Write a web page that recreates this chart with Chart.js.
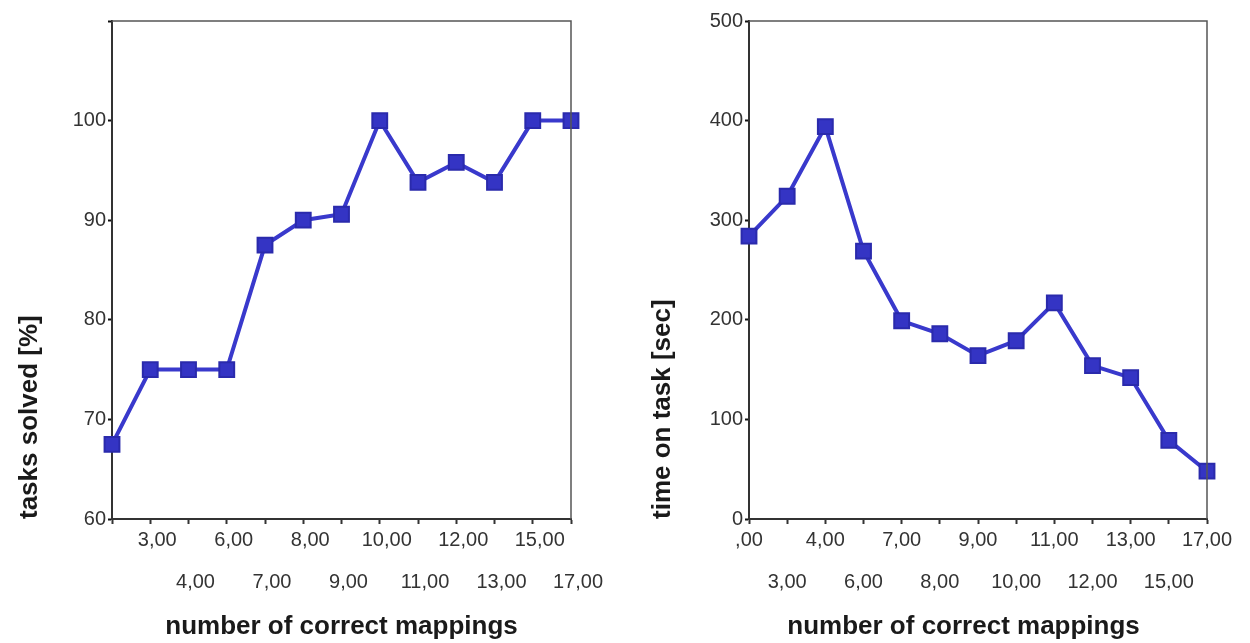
<!DOCTYPE html>
<html>
<head>
<meta charset="utf-8">
<script src="https://cdn.jsdelivr.net/npm/chart.js@4/dist/chart.umd.min.js"></script>
<style>
  html, body { margin: 0; padding: 0; background: #fff; }
  #wrap { position: relative; width: 1250px; height: 643px; }
  .panel { position: absolute; top: 0; width: 625px; height: 643px; }
</style>
</head>
<body>
<div id="wrap">
  <div class="panel" style="left:0"><canvas id="solvedChart" width="625" height="643"></canvas></div>
  <div class="panel" style="left:625px"><canvas id="timeChart" width="625" height="643"></canvas></div>
</div>
<script>
// number of correct mappings (x categories)
const categories = ['2,00', '3,00', '4,00', '6,00', '7,00', '8,00', '9,00', '10,00', '11,00', '12,00', '13,00', '15,00', '17,00'];

// series values
const tasksSolved = [67.5, 75, 75, 75, 87.5, 90, 90.6, 100, 93.8, 95.8, 93.8, 100, 100];
const timeOnTask = [284, 324, 394, 269, 199, 186, 164, 179, 217, 154, 142, 79, 48];

// tick labels as they show in the picture (first one is cut off)
const solvedXLabels = ['', '3,00', '4,00', '6,00', '7,00', '8,00', '9,00', '10,00', '11,00', '12,00', '13,00', '15,00', '17,00'];
const timeXLabels = [',00', '3,00', '4,00', '6,00', '7,00', '8,00', '9,00', '10,00', '11,00', '12,00', '13,00', '15,00', '17,00'];
const solvedYLabels = [60, 70, 80, 90, 100];
const timeYLabels = [0, 100, 200, 300, 400, 500];

const FONT = "'Liberation Sans', Arial, sans-serif";
const LINE_COLOR = '#3939cc';

// draws the gray box round the plot area
const frameBox = {
  id: 'frameBox',
  afterDraw(chart) {
    const { ctx, chartArea: a } = chart;
    ctx.save();
    ctx.strokeStyle = '#555';
    ctx.lineWidth = 1.5;
    ctx.beginPath();
    ctx.moveTo(a.left, a.top);
    ctx.lineTo(a.right, a.top);
    ctx.lineTo(a.right, a.bottom);
    ctx.stroke();
    ctx.restore();
  }
};

function makeChart(id, cfg) {
  const ctx = document.getElementById(id).getContext('2d');
  return new Chart(ctx, {
    type: 'line',
    data: {
      labels: categories,
      datasets: [{
        data: cfg.values,
        borderColor: LINE_COLOR,
        borderWidth: 4,
        pointStyle: 'rect',
        pointRadius: 10.5,
        pointBackgroundColor: '#3434c4',
        pointBorderColor: '#2a2aac',
        pointBorderWidth: 2,
        tension: 0,
        clip: false
      }]
    },
    options: {
      responsive: false,
      animation: false,
      devicePixelRatio: 1,
      layout: { padding: { top: 21, right: cfg.padRight, left: 0, bottom: 0 } },
      plugins: { legend: { display: false }, tooltip: { enabled: false } },
      scales: {
        x: {
          offset: false,
          grid: { drawOnChartArea: false, tickLength: 5, tickWidth: 2, tickColor: '#333' },
          border: { display: true, color: '#333', width: 2 },
          ticks: {
            autoSkip: false,
            maxRotation: 0,
            padding: -5,
            labelOffset: cfg.labelOffset,
            color: '#333',
            font: { family: FONT, size: 20, lineHeight: '42.5px' },
            callback: (value, index) => {
              const text = cfg.xLabels[index];
              return index % 2 === cfg.topParity ? [text, ''] : ['', text];
            }
          },
          title: {
            display: true,
            text: cfg.xTitle,
            color: '#1a1a1a',
            font: { family: FONT, size: 26, weight: 'bold' },
            padding: { top: 0, bottom: 1 }
          },
          afterFit: (scale) => { scale.height = 124; }
        },
        y: {
          min: cfg.min,
          max: cfg.max,
          grid: { drawOnChartArea: false, tickLength: 4, tickWidth: 2, tickColor: '#111' },
          border: { display: true, color: '#333', width: 2 },
          ticks: {
            stepSize: cfg.step,
            padding: 2,
            color: '#333',
            font: { family: FONT, size: 20 },
            callback: (value) => cfg.yLabels.includes(value) ? String(value) : ''
          },
          title: {
            display: true,
            text: cfg.yTitle,
            align: 'start',
            color: '#1a1a1a',
            font: { family: FONT, size: 26, weight: 'bold' },
            padding: { top: cfg.titlePad, bottom: 0 }
          },
          afterFit: (scale) => { scale.width = cfg.yWidth; }
        }
      }
    },
    plugins: [frameBox]
  });
}

makeChart('solvedChart', {
  values: tasksSolved,
  xLabels: solvedXLabels,
  yLabels: solvedYLabels,
  xTitle: 'number of correct mappings',
  yTitle: 'tasks solved [%]',
  min: 60, max: 110, step: 10,
  yWidth: 112, padRight: 54,
  titlePad: 14, topParity: 1, labelOffset: 7
});

// trailing spaces nudge the centred title a bit to the left, as in the picture
makeChart('timeChart', {
  values: timeOnTask,
  xLabels: timeXLabels,
  yLabels: timeYLabels,
  xTitle: 'number of correct mappings\u00a0\u00a0\u00a0\u00a0',
  yTitle: 'time on task [sec]',
  min: 0, max: 500, step: 100,
  yWidth: 124, padRight: 43,
  titlePad: 22, topParity: 0, labelOffset: 0
});
</script>
</body>
</html>
